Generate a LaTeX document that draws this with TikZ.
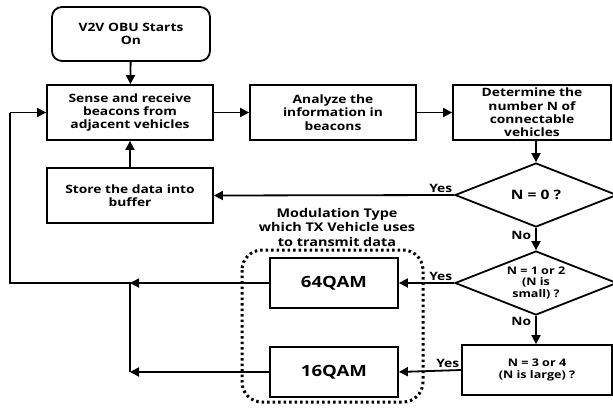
\documentclass[tikz,border=0pt]{standalone}
\usepackage{fontspec}
\setmainfont{Open Sans}[FakeStretch=1.2]
\usetikzlibrary{arrows.meta,shapes.geometric}

\tikzset{
  box/.style={draw,line width=1.8pt,align=center,font=\bfseries\fontsize{11.5}{13.3}\selectfont,
    minimum width=166pt,minimum height=55pt,inner sep=1pt},
  startbox/.style={box,rounded corners=10pt,minimum width=158pt,minimum height=54pt},
  qambox/.style={box,minimum width=128pt,minimum height=50pt,font=\bfseries\fontsize{15.5}{18}\selectfont},
  decision/.style={draw,diamond,aspect=2.5,line width=1.8pt,align=center,inner sep=0pt,
    minimum width=162pt,minimum height=64pt,font=\bfseries\fontsize{10.5}{11.7}\selectfont},
  arr/.style={line width=1.8pt,-{Triangle[length=9pt,width=9pt]}},
  conn/.style={line width=1.8pt},
  lbl/.style={font=\bfseries\fontsize{11.5}{13}\selectfont,inner sep=1pt},
}

\begin{document}
\begin{tikzpicture}[x=1pt,y=-1pt]
  \useasboundingbox (0,0) rectangle (613,407);

  % boxes of the flow
  \node[startbox] (start) at (131,34) {V2V OBU Starts\\On};
  \node[box] (sense) at (130,112.5) {Sense and receive\\beacons from\\adjacent vehicles};
  \node[box] (analyze) at (333,112.5) {Analyze the\\information in\\beacons};
  \node[box,minimum width=158pt] (count) at (532,112.5) {Determine the\\number N of\\connectable\\vehicles};
  \node[box] (store) at (130,195.5) {Store the data into\\buffer};

  % decisions
  \node[decision,font=\bfseries\fontsize{13}{14}\selectfont] (zero) at (536,195) {N = 0 ?};
  \node[decision] (small) at (536,283) {N = 1 or 2\\(N is\\small) ?};
  \node[box,minimum width=150pt,minimum height=50pt,font=\bfseries\fontsize{10.5}{12}\selectfont] (large) at (537,370) {N = 3 or 4\\(N is large) ?};

  % modulation choices
  \node[qambox] (qam64) at (334,283) {64QAM};
  \node[qambox] (qam16) at (334,372) {16QAM};
  \draw[line width=3pt,dash pattern=on 2.5pt off 3pt,rounded corners=20pt] (242,250) rectangle (423,402);
  \node[align=center,font=\bfseries\fontsize{12}{14.5}\selectfont] (modtitle) at (337,227)
    {Modulation Type\\which TX Vehicle uses\\to transmit data};

  \coordinate (join64) at (130,283);
  \coordinate (join16) at (130,372);
  \coordinate (loopLow) at (10,283);
  \coordinate (loopHigh) at (10,112.5);

  % connectors
  \draw[arr] (start) -- (sense);
  \draw[arr] (sense) -- (analyze);
  \draw[arr] (analyze) -- (count);
  \draw[arr] (count.south -| zero.north) -- (zero.north);
  \draw[arr] (zero.west) -- (store.east) node[lbl,pos=0,anchor=south east] {Yes};
  \draw[arr] (zero.south) -- (small.north) node[lbl,pos=0.35,left=3pt] {No};
  \draw[arr] (small.west) -- (qam64.east) node[lbl,pos=0,anchor=south east] {Yes};
  \draw[arr] (small.south) -- (large.north -| small.south) node[lbl,pos=0.2,left=3pt] {No};
  \draw[arr] (large.west) -- (qam16.east) node[lbl,pos=0,anchor=south east] {Yes};
  \draw[arr] (store) -- (sense);
  \draw[arr] (qam64.west) -- (join64);
  \draw[arr] (qam16.west) -- (join16);
  \draw[conn] (join16) -- (join64) -- (loopLow) -- (loopHigh);
  \draw[arr] (loopHigh) -- (sense.west);
\end{tikzpicture}
\end{document}
